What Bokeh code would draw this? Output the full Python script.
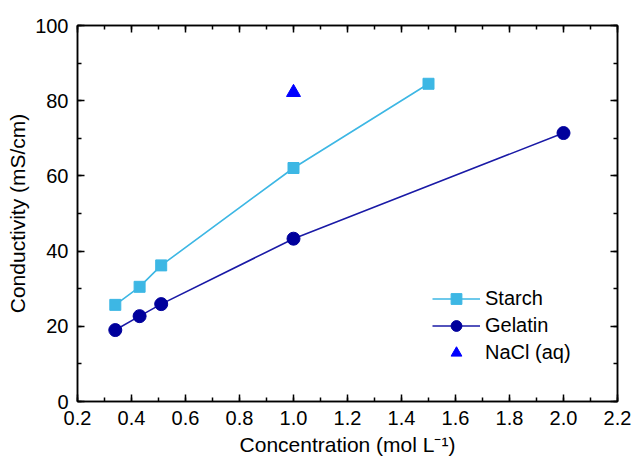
from bokeh.plotting import figure
from bokeh.models import (LinearAxis, SingleIntervalTicker, NumeralTickFormatter,
                          CustomJSTickFormatter, Legend, LegendItem, Range1d)
from bokeh.embed import file_html
from bokeh.resources import INLINE

# Conductivity vs concentration data
starch_x = [0.34, 0.43, 0.51, 1.0, 1.5]
starch_y = [25.7, 30.5, 36.2, 62.1, 84.5]
gelatin_x = [0.34, 0.43, 0.51, 1.0, 2.0]
gelatin_y = [19.0, 22.7, 25.9, 43.3, 71.4]
nacl_x = [1.0]
nacl_y = [82.2]

FONT = "Liberation Sans"
STARCH_C = "#3db7e4"
GELATIN_C = "#00009c"
GELATIN_LINE = "#1a1aa6"
NACL_C = "#0000ff"

p = figure(width=634, height=459, output_backend="svg", toolbar_location=None,
           x_range=Range1d(0.2, 2.2), y_range=Range1d(0, 100),
           min_border_left=77, min_border_right=17, min_border_top=25,
           min_border_bottom=58, x_axis_type=None, y_axis_type=None)
p.grid.visible = False
p.outline_line_color = "black"
p.outline_line_width = 1.5
p.background_fill_color = "white"
p.border_fill_color = "white"

xt = SingleIntervalTicker(interval=0.2, num_minor_ticks=2)
yt = SingleIntervalTicker(interval=20, num_minor_ticks=2)


def style(ax):
    ax.axis_line_color = "black"
    ax.axis_line_width = 1.5
    ax.major_tick_line_color = "black"
    ax.minor_tick_line_color = "black"
    ax.major_tick_line_width = 1.5
    ax.minor_tick_line_width = 1.5
    ax.major_tick_in = 7
    ax.major_tick_out = 0
    ax.minor_tick_in = 4
    ax.minor_tick_out = 0
    ax.major_label_text_font = FONT
    ax.major_label_text_color = "black"
    ax.major_label_text_font_size = "20px"
    ax.axis_label_text_font = FONT
    ax.axis_label_text_font_style = "normal"
    ax.axis_label_text_color = "black"
    ax.axis_label_text_font_size = "21px"


xb = LinearAxis(ticker=xt, formatter=NumeralTickFormatter(format="0.0"),
                axis_label="Concentration (mol L⁻¹)")
style(xb)
xb.major_label_standoff = 9
xb.axis_label_standoff = 5
p.add_layout(xb, "below")

yl = LinearAxis(ticker=yt, axis_label="Conductivity (mS/cm)")
style(yl)
yl.major_label_standoff = 9
yl.axis_label_standoff = 3
p.add_layout(yl, "left")

# Mirror axes on top and right carry ticks only
blank = CustomJSTickFormatter(code="return ''")
xa = LinearAxis(ticker=xt, formatter=blank)
style(xa)
xa.major_label_standoff = 0
p.add_layout(xa, "above")

yr = LinearAxis(ticker=yt, formatter=blank)
style(yr)
yr.major_label_standoff = 0
p.add_layout(yr, "right")

# Series
s_line = p.line(starch_x, starch_y, line_color=STARCH_C, line_width=1.6)
s_pts = p.scatter(starch_x, starch_y, marker="square", size=11,
                  fill_color=STARCH_C, line_color=STARCH_C)
g_line = p.line(gelatin_x, gelatin_y, line_color=GELATIN_LINE, line_width=1.6)
g_pts = p.scatter(gelatin_x, gelatin_y, marker="circle", size=13,
                  fill_color=GELATIN_C, line_color=GELATIN_C)
n_pts = p.scatter(nacl_x, nacl_y, marker="triangle", size=14,
                  fill_color=NACL_C, line_color=NACL_C)

legend = Legend(items=[
    LegendItem(label="Starch", renderers=[s_line, s_pts]),
    LegendItem(label="Gelatin", renderers=[g_line, g_pts]),
    LegendItem(label="NaCl (aq)", renderers=[n_pts]),
], location=(355, 35))
legend.background_fill_alpha = 0
legend.border_line_color = None
legend.label_text_font = FONT
legend.label_text_font_size = "20px"
legend.label_text_color = "black"
legend.glyph_width = 48
legend.glyph_height = 27
legend.spacing = 0
legend.label_standoff = 5
legend.padding = 0
legend.margin = 0
p.add_layout(legend, "center")

open("out.html", "w").write(file_html(p, INLINE))
